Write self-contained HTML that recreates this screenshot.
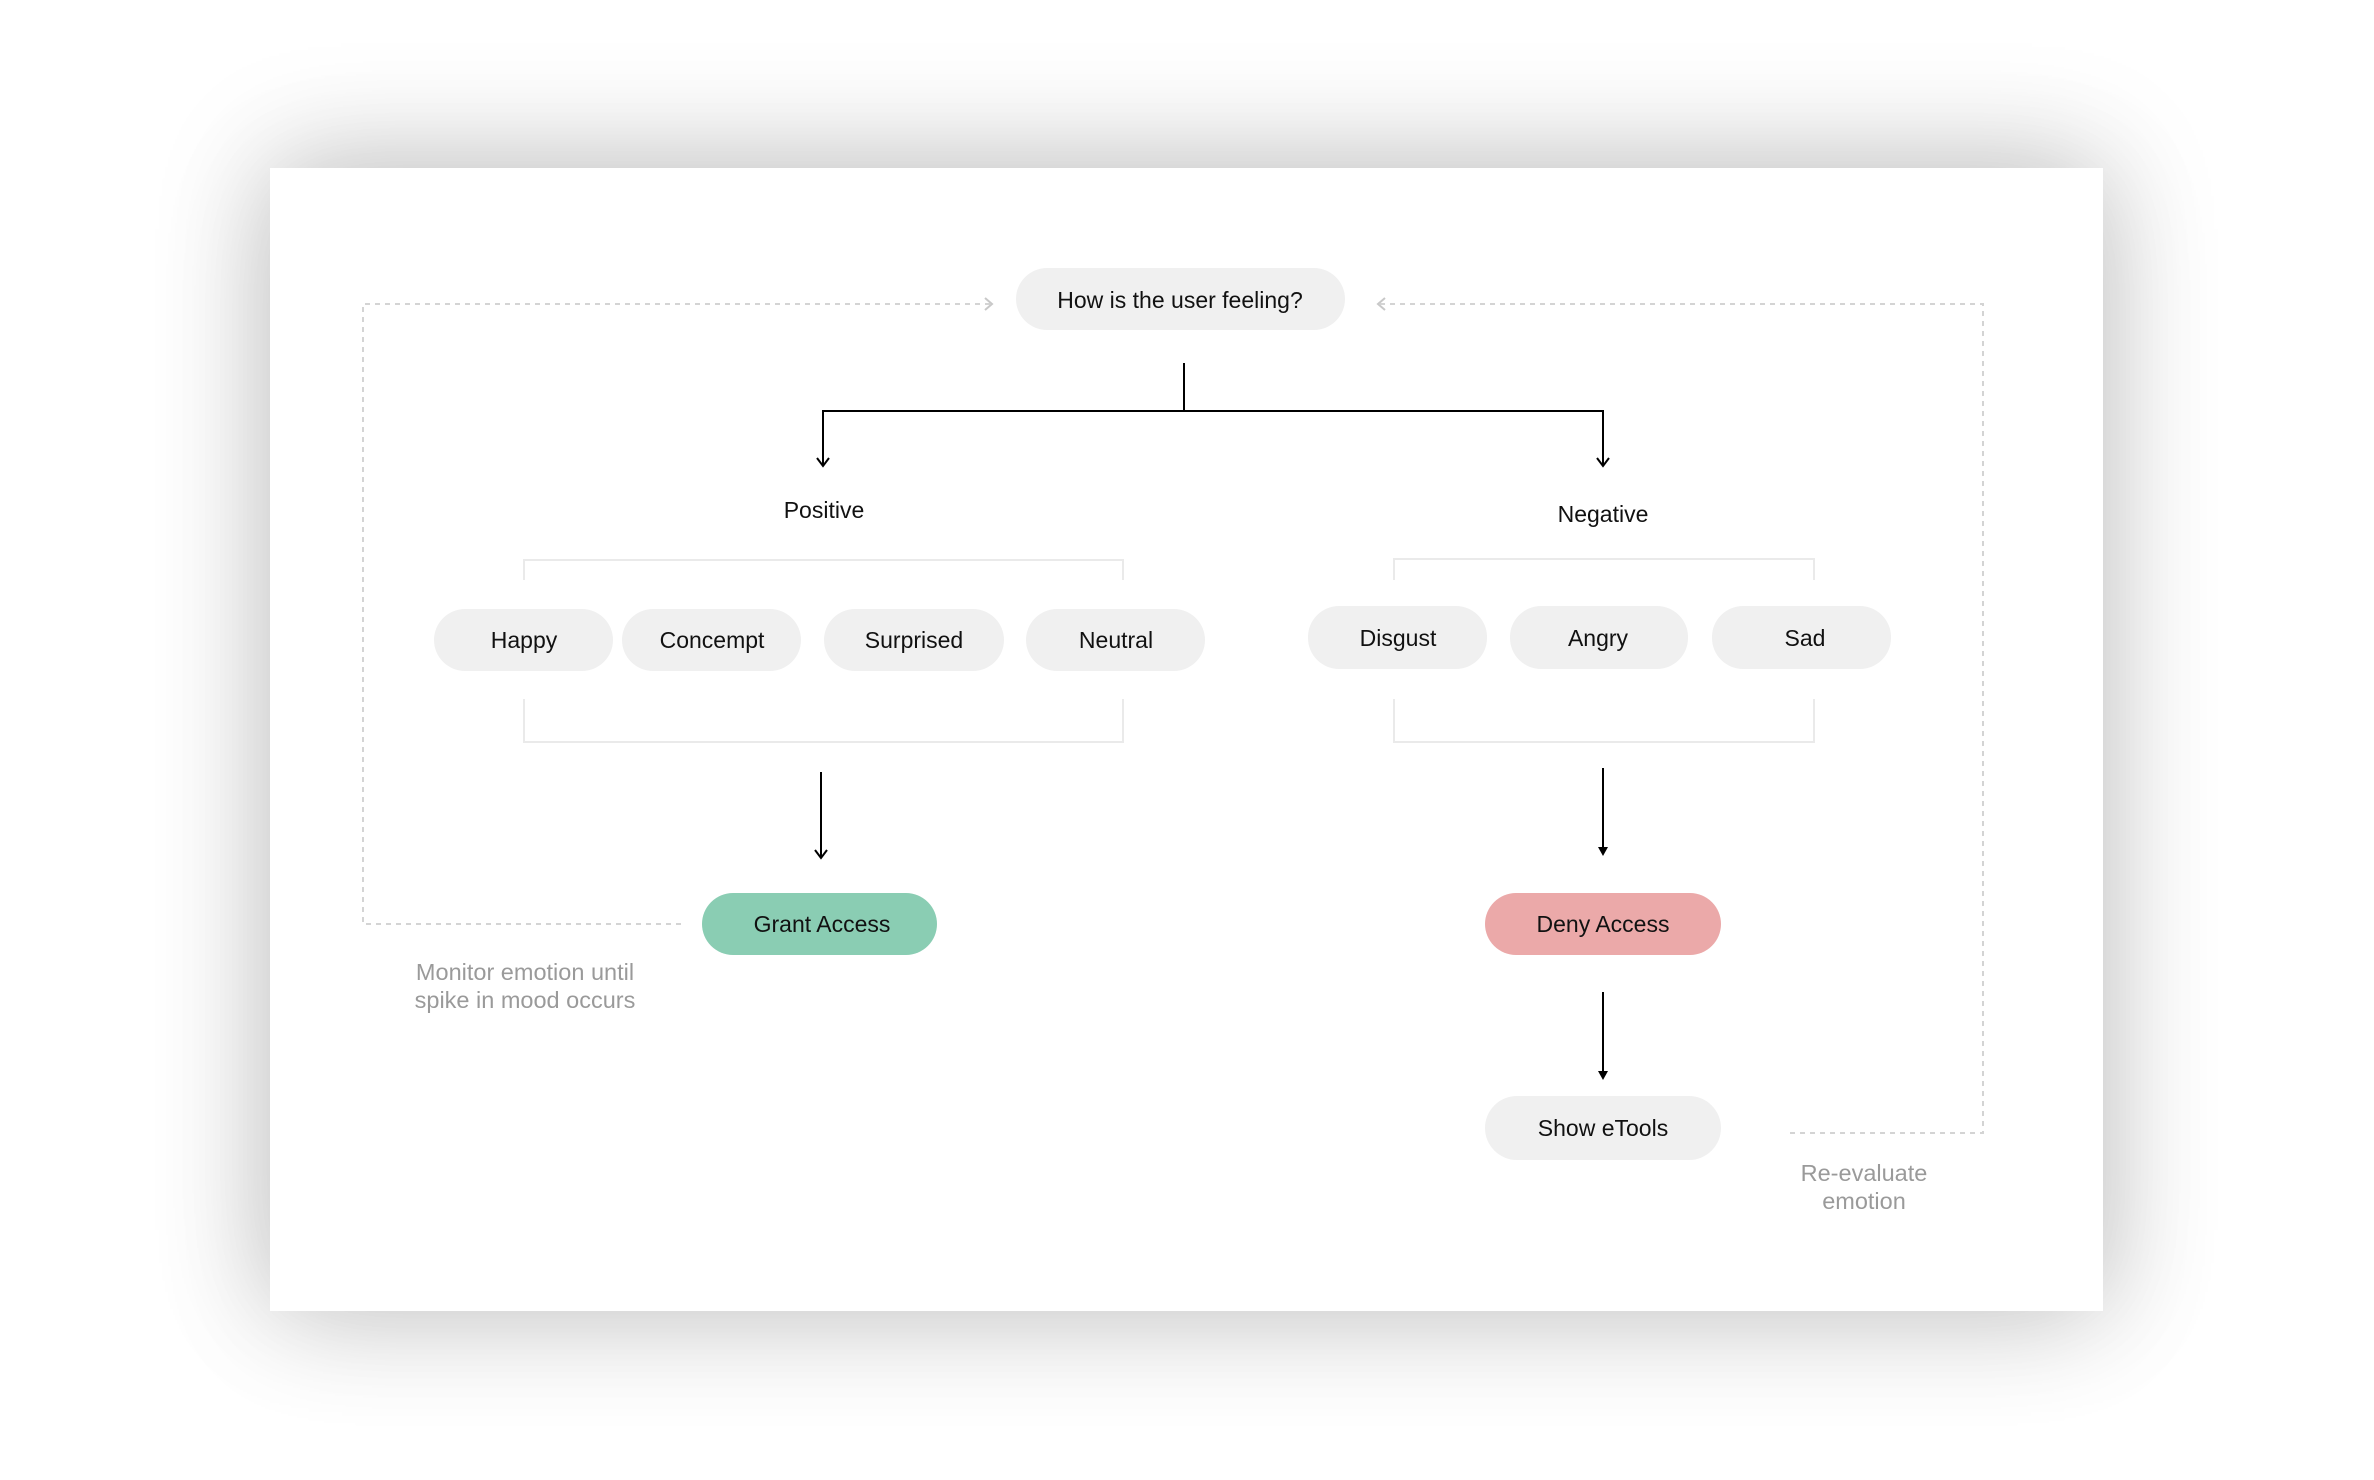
<!DOCTYPE html>
<html><head><meta charset="utf-8"><style>
html,body{margin:0;padding:0;background:#fff;}
body{width:2374px;height:1480px;position:relative;overflow:hidden;}
.card{position:absolute;left:270px;top:168px;width:1833px;height:1143px;background:#fff;box-shadow:0 -10px 110px rgba(0,0,0,0.18),0 10px 110px rgba(0,0,0,0.12);}
svg{position:absolute;left:0;top:0;}
text{font-family:"Liberation Sans",sans-serif;}
</style></head><body>
<div class="card"></div>
<svg width="2374" height="1480" viewBox="0 0 2374 1480">
<g fill="none" stroke="#d4d4d4" stroke-width="2" stroke-dasharray="5,5">
<polyline points="990,304 363,304 363,924 683,924"/>
<polyline points="1380,304 1983,304 1983,1133 1787,1133"/>
</g>
<g fill="none" stroke="#c8c8c8" stroke-width="2">
<polyline points="985,298 992,304 985,310"/>
<polyline points="1385,298 1378,304 1385,310"/>
</g>
<g fill="none" stroke="#eaeaea" stroke-width="2">
<polyline points="524,580 524,560 1123,560 1123,580"/>
<polyline points="524,699 524,742 1123,742 1123,699"/>
<polyline points="1394,580 1394,559 1814,559 1814,580"/>
<polyline points="1394,699 1394,742 1814,742 1814,699"/>
</g>
<g fill="none" stroke="#000" stroke-width="2">
<line x1="1184" y1="363" x2="1184" y2="411"/>
<polyline points="823,466 823,411 1603,411 1603,466"/>
<polyline points="817,458 823,466 829,458"/>
<polyline points="1597,458 1603,466 1609,458"/>
<line x1="821" y1="772" x2="821" y2="858"/>
<polyline points="815,850 821,858 827,850"/>
<line x1="1603" y1="768" x2="1603" y2="850"/>
<line x1="1603" y1="992" x2="1603" y2="1074"/>
</g>
<polygon points="1598,847 1608,847 1603,856" fill="#000"/>
<polygon points="1598,1071 1608,1071 1603,1080" fill="#000"/>
<g fill="#f0f0f0">
<rect x="1016" y="268" width="329" height="62" rx="31"/>
<rect x="434" y="609" width="179" height="62" rx="31"/>
<rect x="622" y="609" width="179" height="62" rx="31"/>
<rect x="824" y="609" width="180" height="62" rx="31"/>
<rect x="1026" y="609" width="179" height="62" rx="31"/>
<rect x="1308" y="606" width="179" height="63" rx="31"/>
<rect x="1510" y="606" width="178" height="63" rx="31"/>
<rect x="1712" y="606" width="179" height="63" rx="31"/>
<rect x="1485" y="1096" width="236" height="64" rx="32"/>
</g>
<rect x="702" y="893" width="235" height="62" rx="31" fill="#8acdb3"/>
<rect x="1485" y="893" width="236" height="62" rx="31" fill="#eba9a9"/>
<g font-size="23" fill="#111" text-anchor="middle">
<text x="1180" y="308">How is the user feeling?</text>
<text x="824" y="518">Positive</text>
<text x="1603" y="522">Negative</text>
<text x="524" y="648">Happy</text>
<text x="712" y="648">Concempt</text>
<text x="914" y="648">Surprised</text>
<text x="1116" y="648">Neutral</text>
<text x="1398" y="646">Disgust</text>
<text x="1598" y="646">Angry</text>
<text x="1805" y="646">Sad</text>
<text x="822" y="932">Grant Access</text>
<text x="1603" y="932">Deny Access</text>
<text x="1603" y="1136">Show eTools</text>
</g>
<g font-size="23.5" fill="#9a9a9a" text-anchor="middle">
<text x="525" y="980">Monitor emotion until</text>
<text x="525" y="1008">spike in mood occurs</text>
<text x="1864" y="1181">Re-evaluate</text>
<text x="1864" y="1209">emotion</text>
</g>
</svg>
</body></html>
